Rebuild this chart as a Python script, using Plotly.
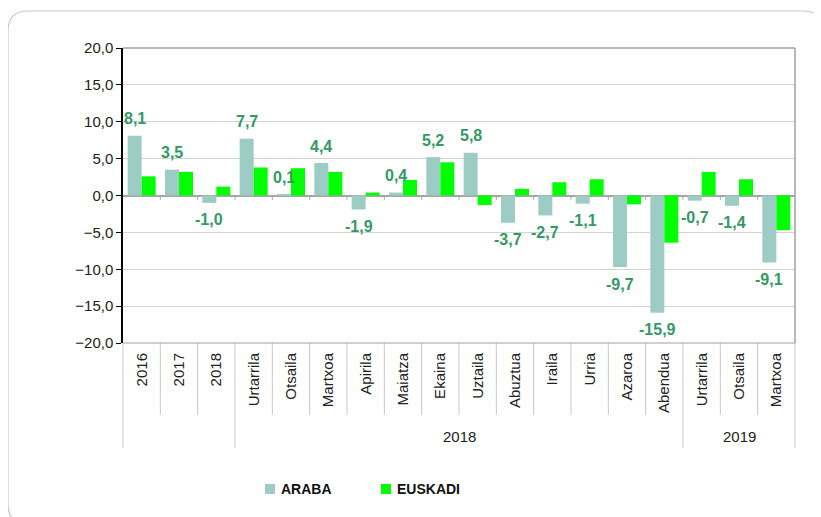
import plotly.graph_objects as go

categories = ["2016", "2017", "2018", "Urtarrila", "Otsaila", "Martxoa", "Apirila", "Maiatza",
              "Ekaina", "Uztaila", "Abuztua", "Iraila", "Urria", "Azaroa", "Abendua",
              "Urtarrila", "Otsaila", "Martxoa"]
groups = ["", "", "", "2018", "2018", "2018", "2018", "2018", "2018", "2018", "2018", "2018",
          "2018", "2018", "2018", "2019", "2019", "2019"]
araba = [8.1, 3.5, -1.0, 7.7, 0.1, 4.4, -1.9, 0.4, 5.2, 5.8, -3.7, -2.7, -1.1, -9.7, -15.9,
         -0.7, -1.4, -9.1]
euskadi = [2.6, 3.2, 1.2, 3.8, 3.7, 3.2, 0.4, 2.1, 4.5, -1.3, 0.9, 1.8, 2.2, -1.2, -6.4,
           3.2, 2.2, -4.7]
series_names = ["ARABA", "EUSKADI"]
y_ticks = [-20, -15, -10, -5, 0, 5, 10, 15, 20]

FONT = "Arial, Liberation Sans, sans-serif"
C_ARABA = "#9dccc5"
C_EUSK = "#00ff00"
C_LABEL = "#339966"

# page offset (browser body margin)
OFF = 8
PW, PH = 821, 517
FW, FH = PW - OFF, PH - OFF

n = len(categories)
xs = list(range(n))

fig = go.Figure()
fig.add_trace(go.Bar(x=xs, y=araba, name=series_names[0], marker_color=C_ARABA, marker_line_width=0))
fig.add_trace(go.Bar(x=xs, y=euskadi, name=series_names[1], marker_color=C_EUSK, marker_line_width=0))

# plot area in page pixels
L, R, T, B = 123, 795, 48, 343
W, H = R - L, B - T
def px_x(p):
    return (p - L) / W
def px_y(p):
    return (B - p) / H

annotations = []
bar_w = 0.375
for i, v in enumerate(araba):
    annotations.append(dict(
        x=i - bar_w / 2, y=v, xref="x", yref="y",
        text=f"{v:.1f}".replace(".", ","), showarrow=False,
        yshift=17 if v >= 0 else -17,
        font=dict(family=FONT, size=16, color=C_LABEL, weight="bold"),
    ))

group_names = []
for g in groups:
    if g not in group_names:
        group_names.append(g)
for g in group_names:
    idx = [i for i, gg in enumerate(groups) if gg == g]
    if not g:
        continue
    annotations.append(dict(
        x=(idx[0] + idx[-1]) / 2, y=px_y(437), xref="x", yref="paper",
        text=g, showarrow=False, yanchor="middle",
        font=dict(family=FONT, size=15, color="#222"),
    ))

shapes = []
# manual legend
legend_pos = [265, 381]
for name, col, lx in zip(series_names, [C_ARABA, C_EUSK], legend_pos):
    shapes.append(dict(type="rect", xref="paper", yref="paper",
                       x0=px_x(lx), x1=px_x(lx + 10), y0=px_y(494), y1=px_y(484),
                       fillcolor=col, line=dict(width=0)))
    annotations.append(dict(x=px_x(lx + 14), y=px_y(489), xref="paper", yref="paper",
                            text=name, showarrow=False, xanchor="left", yanchor="middle",
                            font=dict(family=FONT, size=14, color="#111", weight="bold")))

# dividers in label area
for k in range(n + 1):
    is_group = k == 0 or k == n or groups[k] != groups[k - 1]
    shapes.append(dict(
        type="line", xref="paper", yref="paper",
        x0=k / n, x1=k / n, y0=0, y1=px_y(448 if is_group else 415),
        line=dict(color="#c8c8c8", width=1),
    ))
# small tick marks under zero line
for k in range(1, n):
    shapes.append(dict(
        type="line", xref="x", yref="y",
        x0=k - 0.5, x1=k - 0.5, y0=0, y1=-0.6,
        line=dict(color="#a6a6a6", width=1),
    ))
# plot frame
shapes.append(dict(type="line", xref="paper", yref="paper", x0=0, x1=1, y0=1, y1=1,
                   line=dict(color="#a0a0a0", width=1.5)))
shapes.append(dict(type="line", xref="paper", yref="paper", x0=1, x1=1, y0=0, y1=1,
                   line=dict(color="#a0a0a0", width=1.5)))
shapes.append(dict(type="line", xref="paper", yref="paper", x0=0, x1=1, y0=0, y1=0,
                   line=dict(color="#a0a0a0", width=1)))

# outer rounded border
bl, bt, br, bb, rad = 8, 11, 823, 524, 20
x0, x1 = px_x(bl), px_x(br)
y0, y1 = px_y(bb), px_y(bt)
rx, ry = rad / W, rad / H
path = (f"M{x0 + rx},{y1} L{x1 - rx},{y1} Q{x1},{y1} {x1},{y1 - ry} "
        f"L{x1},{y0 + ry} Q{x1},{y0} {x1 - rx},{y0} "
        f"L{x0 + rx},{y0} Q{x0},{y0} {x0},{y0 + ry} "
        f"L{x0},{y1 - ry} Q{x0},{y1} {x0 + rx},{y1} Z")
shapes.append(dict(type="path", xref="paper", yref="paper", path=path,
                   line=dict(color="#c8c8c8", width=1.2), layer="below"))

fig.update_layout(
    width=FW, height=FH,
    margin=dict(l=L - OFF, r=PW - R, t=T - OFF, b=PH - B, pad=0),
    paper_bgcolor="white", plot_bgcolor="white",
    separators=",.",
    barmode="group", bargap=0.25, bargroupgap=0,
    font=dict(family=FONT, size=14, color="#222"),
    showlegend=False,
    annotations=annotations,
    shapes=shapes,
)
fig.update_xaxes(
    range=[-0.5, n - 0.5], tickmode="array", tickvals=xs, ticktext=categories,
    tickangle=-90, ticks="", showgrid=False, showline=False, zeroline=False,
    ticklabelstandoff=6,
    tickfont=dict(family=FONT, size=15, color="#222"), fixedrange=True,
)
fig.update_yaxes(
    range=[-20, 20], tickmode="array", tickvals=y_ticks, tickformat=".1f",
    showgrid=True, gridcolor="#d4d4d4", gridwidth=1,
    zeroline=True, zerolinecolor="#a6a6a6", zerolinewidth=2,
    showline=True, linecolor="black", linewidth=1.5,
    ticks="outside", ticklen=5, tickcolor="black",
    tickfont=dict(family=FONT, size=15, color="#222"), fixedrange=True,
)

fig.write_html("out.html")
